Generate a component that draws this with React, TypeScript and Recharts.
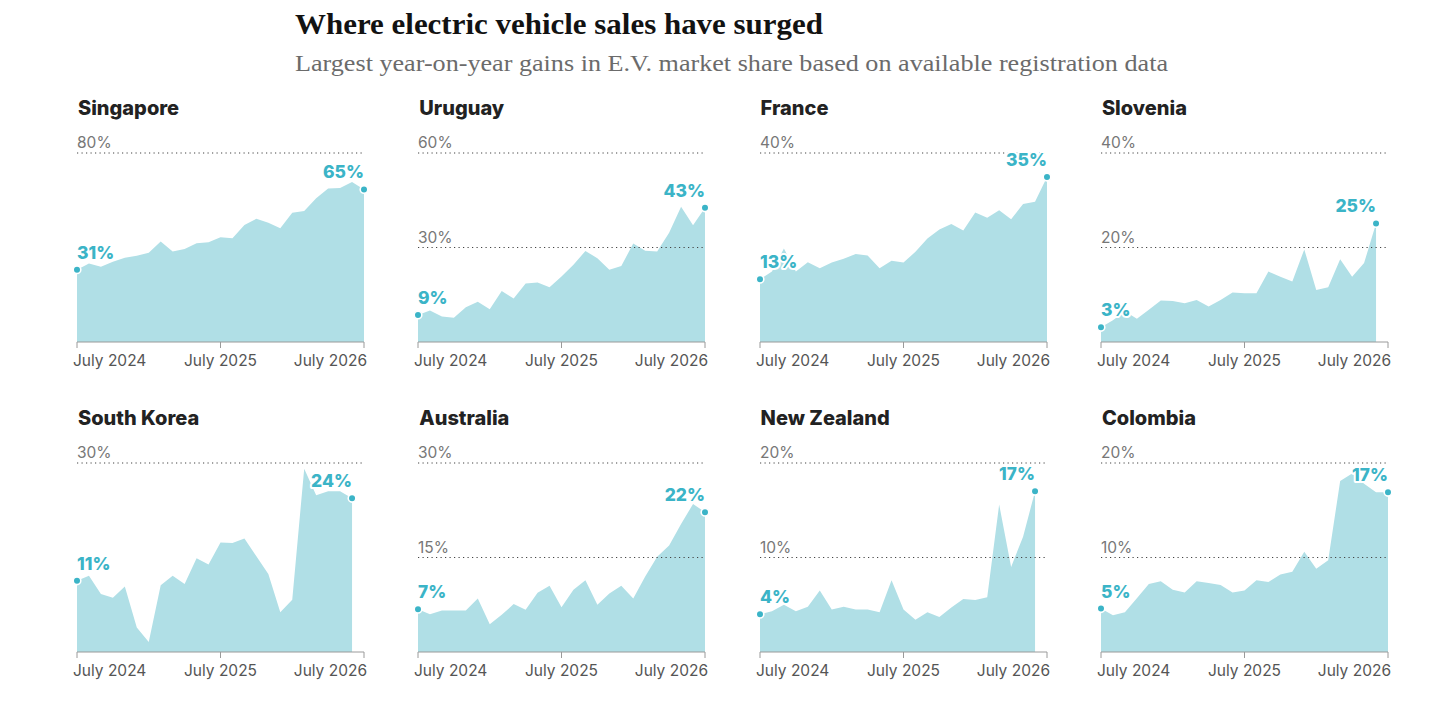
import React from 'react';
import { AreaChart, Area, XAxis, YAxis, ReferenceLine } from 'recharts';

const countries = ['Singapore', 'Uruguay', 'France', 'Slovenia', 'South Korea', 'Australia', 'New Zealand', 'Colombia'];
const axisTops = [80, 60, 40, 40, 30, 30, 20, 20];
const gridTicks = [[80], [30, 60], [40], [20, 40], [30], [15, 30], [10, 20], [10, 20]];
const monthTicks = [0, 12, 24];
const monthLabels = ['July 2024', 'July 2025', 'July 2026'];

// monthly E.V. share (%), starting July 2024
const singapore = [30.6, 33.2, 31.9, 34.0, 35.7, 36.5, 37.8, 42.5, 38.3, 39.4, 41.8, 42.2, 44.3, 43.9, 49.5, 52.2, 50.5, 48.1, 54.7, 55.4, 60.8, 65.0, 65.2, 67.7, 64.6];
const uruguay = [8.6, 10.0, 8.1, 7.7, 11.0, 12.8, 10.4, 16.2, 13.8, 18.6, 18.9, 17.4, 20.8, 24.5, 28.9, 26.6, 22.9, 24.1, 31.3, 29.0, 28.7, 34.7, 42.9, 37.1, 42.6];
const france = [13.3, 14.9, 19.8, 14.9, 16.9, 15.6, 16.8, 17.6, 18.6, 18.3, 15.6, 17.2, 16.8, 19.1, 21.9, 23.8, 25.0, 23.6, 27.4, 26.3, 27.9, 26.0, 29.2, 29.7, 34.9];
const slovenia = [3.1, 4.6, 6.5, 4.9, 6.8, 8.8, 8.7, 8.2, 8.9, 7.5, 8.9, 10.5, 10.3, 10.3, 14.9, 13.8, 12.8, 19.6, 11.0, 11.6, 17.5, 13.8, 16.7, 25.1];
const southKorea = [11.3, 12.1, 9.2, 8.6, 10.4, 3.9, 1.6, 10.6, 12.1, 10.8, 14.9, 13.9, 17.4, 17.3, 18.0, 15.2, 12.4, 6.3, 8.3, 29.1, 24.9, 25.5, 25.5, 24.4];
const australia = [6.8, 6.0, 6.6, 6.6, 6.6, 8.5, 4.4, 5.9, 7.6, 6.7, 9.4, 10.5, 7.1, 9.9, 11.4, 7.5, 9.3, 10.5, 8.5, 12.0, 15.1, 16.9, 20.3, 23.5, 22.2];
const newZealand = [4.0, 4.3, 5.0, 4.3, 4.8, 6.5, 4.5, 4.8, 4.5, 4.5, 4.2, 7.6, 4.5, 3.4, 4.2, 3.7, 4.7, 5.6, 5.5, 5.8, 15.6, 9.0, 12.2, 17.0];
const colombia = [4.6, 3.9, 4.2, 5.7, 7.2, 7.5, 6.6, 6.3, 7.5, 7.3, 7.1, 6.3, 6.5, 7.6, 7.4, 8.2, 8.5, 10.6, 8.8, 9.7, 18.1, 18.9, 17.8, 16.9, 16.9];

const shares = [singapore, uruguay, france, slovenia, southKorea, australia, newZealand, colombia];

const FILL = '#b0dfe6';
const TEAL = '#3bb4c7';
const SANS = 'Inter, "Noto Sans", sans-serif';

const COL_X = [77, 418.3, 759.6, 1100.9];
const ROW_TOP = [153, 463];
const PLOT_W = 287;
const PLOT_H = 189;
const M_TOP = 40;
const M_LEFT = 15;
const M_RIGHT = 18;
const AXIS_H = 32;

const MonthTick = (props: any) => {
  const { x, y, payload } = props;
  const i = monthTicks.indexOf(payload.value);
  let anchor = 'middle';
  let dx = 0;
  if (i === 0) { anchor = 'start'; dx = -4; }
  if (i === monthTicks.length - 1) { anchor = 'end'; dx = 3; }
  return (
    <text x={x + dx} y={y} dy={16} textAnchor={anchor} fontFamily={SANS} fontSize={15.5} fill="#555">
      {monthLabels[i]}
    </text>
  );
};

const makeDot = (n: number) => (props: any) => {
  const { cx, cy, index, payload } = props;
  if (index !== 0 && index !== n - 1) return <g key={`d-${index}`} />;
  const first = index === 0;
  return (
    <g key={`d-${index}`}>
      <circle cx={cx} cy={cy} r={3.8} fill={TEAL} stroke="#fff" strokeWidth={1.6} />
      <text
        x={cx}
        y={cy - 11}
        textAnchor={first ? 'start' : 'end'}
        fontFamily={SANS}
        fontWeight={800}
        fontSize={17.5}
        fill={TEAL}
        stroke="#fff"
        strokeWidth={4}
        strokeLinejoin="round"
        paintOrder="stroke"
      >
        {Math.round(payload.v)}%
      </text>
    </g>
  );
};

const Panel = ({ idx }: { idx: number }) => {
  const values = shares[idx];
  const data = values.map((v, m) => ({ m, v }));
  const col = idx % 4;
  const row = Math.floor(idx / 4);
  return (
    <div style={{ position: 'absolute', left: COL_X[col] - M_LEFT, top: ROW_TOP[row] - M_TOP }}>
      <AreaChart
        width={PLOT_W + M_LEFT + M_RIGHT}
        height={PLOT_H + M_TOP + AXIS_H}
        data={data}
        margin={{ top: M_TOP, right: M_RIGHT, bottom: 0, left: M_LEFT }}
      >
        <XAxis
          dataKey="m"
          type="number"
          domain={[0, 24]}
          ticks={monthTicks}
          interval={0}
          tickSize={6}
          height={AXIS_H}
          axisLine={{ stroke: '#9a9a9a' }}
          tickLine={{ stroke: '#9a9a9a' }}
          tick={<MonthTick />}
        />
        <YAxis hide domain={[0, axisTops[idx]]} />
        <Area
          type="linear"
          dataKey="v"
          stroke="none"
          fill={FILL}
          fillOpacity={1}
          isAnimationActive={false}
          activeDot={false}
          dot={makeDot(values.length)}
        />
        {gridTicks[idx].map((t) => (
          <ReferenceLine
            key={t}
            y={t}
            stroke="#444"
            strokeWidth={1.2}
            strokeDasharray="1.2 3.3"
            label={(p: any) => (
              <text x={p.viewBox.x} y={p.viewBox.y - 5} fontFamily={SANS} fontSize={15.5} fill="#777">
                {t}%
              </text>
            )}
          />
        ))}
      </AreaChart>
    </div>
  );
};

export default function App() {
  return (
    <div style={{ position: 'absolute', left: 0, top: 0, width: 1456, height: 706, background: '#fff' }}>
      <svg width={1456} height={706} style={{ position: 'absolute', left: 0, top: 0 }}>
        <text x={295} y={34} fontFamily='"Liberation Serif", serif' fontWeight={700} fontSize={30} fill="#121212" textLength={528} lengthAdjust="spacingAndGlyphs">
          Where electric vehicle sales have surged
        </text>
        <text x={295} y={71} fontFamily='"Liberation Serif", serif' fontSize={23} fill="#6b6b6b" textLength={873} lengthAdjust="spacingAndGlyphs">
          Largest year-on-year gains in E.V. market share based on available registration data
        </text>
        {countries.map((c, i) => (
          <text key={c} x={COL_X[i % 4] + 1} y={i < 4 ? 115 : 425} fontFamily={SANS} fontWeight={800} fontSize={20} fill="#222">
            {c}
          </text>
        ))}
      </svg>
      {countries.map((c, i) => (
        <Panel key={c} idx={i} />
      ))}
    </div>
  );
}
